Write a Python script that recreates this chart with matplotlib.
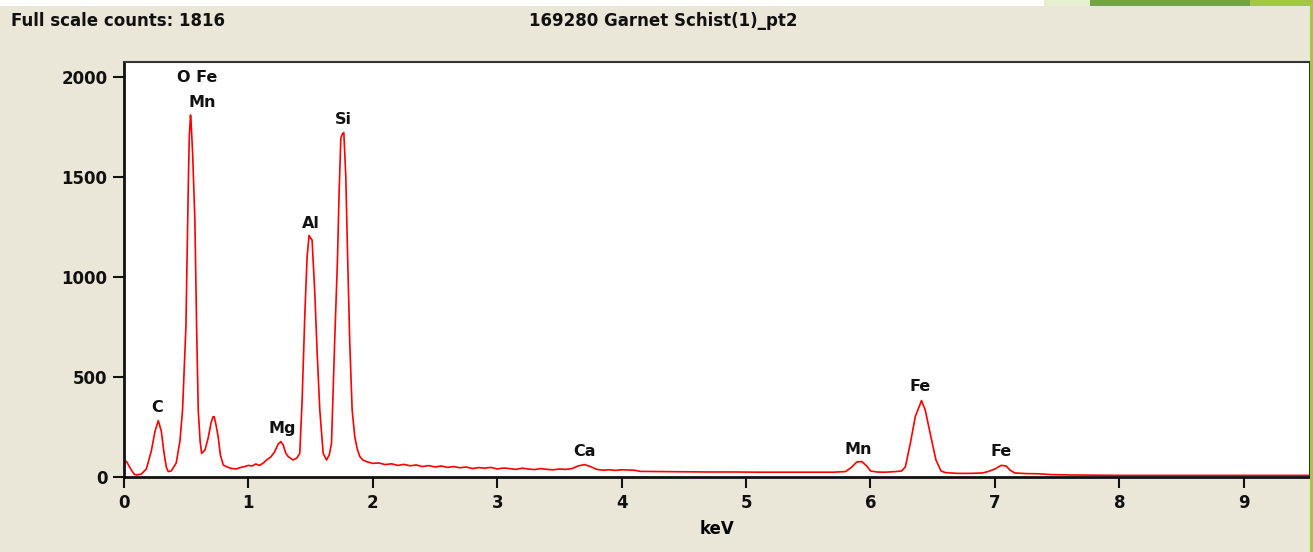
import matplotlib
matplotlib.use("Agg")
import matplotlib.pyplot as plt
from matplotlib.patches import Rectangle

# EDS spectrum (keV, counts)
energy_kev = [
    0.00, 0.02, 0.05, 0.08, 0.10, 0.14, 0.18, 0.22, 0.25, 0.276, 0.30, 0.32,
    0.34, 0.356, 0.38, 0.42, 0.45, 0.471, 0.498, 0.509, 0.517, 0.525, 0.530,
    0.535, 0.540, 0.552, 0.570, 0.584, 0.597, 0.612, 0.624, 0.651, 0.675,
    0.700, 0.715, 0.725, 0.740, 0.757, 0.775, 0.798, 0.83, 0.86, 0.90, 0.94,
    0.97, 1.00, 1.03, 1.06, 1.09, 1.12, 1.146, 1.18, 1.21, 1.24, 1.261, 1.28,
    1.30, 1.32, 1.36, 1.39, 1.413, 1.432, 1.454, 1.472, 1.488, 1.500, 1.512,
    1.534, 1.553, 1.574, 1.601, 1.628, 1.650, 1.668, 1.694, 1.716, 1.729,
    1.743, 1.755, 1.767, 1.783, 1.797, 1.815, 1.834, 1.855, 1.875, 1.896,
    1.92, 1.949, 2.00, 2.05, 2.10, 2.15, 2.20, 2.25, 2.30, 2.35, 2.40, 2.45,
    2.50, 2.55, 2.60, 2.65, 2.70, 2.75, 2.80, 2.85, 2.90, 2.95, 3.00, 3.05,
    3.10, 3.15, 3.20, 3.25, 3.30, 3.35, 3.40, 3.45, 3.50, 3.55, 3.60, 3.65,
    3.70, 3.75, 3.80, 3.85, 3.90, 3.95, 4.00, 4.05, 4.10, 4.15, 4.30, 4.50,
    4.70, 4.90, 5.10, 5.30, 5.50, 5.70, 5.80, 5.85, 5.89, 5.93, 5.97, 6.00,
    6.05, 6.10, 6.15, 6.20, 6.25, 6.28, 6.32, 6.36, 6.41, 6.44, 6.485, 6.526,
    6.567, 6.60, 6.70, 6.80, 6.90, 6.95, 7.00, 7.05, 7.09, 7.12, 7.16, 7.25,
    7.35, 7.45, 7.60, 7.80, 8.00, 8.50, 9.00, 9.53,
]
counts = [
    77, 78, 45, 15, 10, 15, 40, 130, 230, 282, 230, 130,
    50, 27, 30, 70, 180, 335, 752, 1152, 1452, 1700, 1760,
    1810, 1770, 1618, 1285, 752, 335, 180, 118, 135, 190,
    270, 300, 302, 260, 202, 110, 60, 50, 43, 40, 48,
    52, 58, 55, 65, 58, 70, 85, 100, 125, 165, 177, 160,
    120, 102, 85, 95, 118, 385, 818, 1102, 1208, 1195, 1185,
    918, 618, 335, 118, 85, 110, 168, 685, 1085, 1418,
    1693, 1715, 1722, 1502, 1118, 668, 335, 202, 140, 102,
    85, 77, 68, 70, 62, 66, 58, 63, 56, 60, 52, 57,
    50, 55, 48, 52, 46, 50, 42, 47, 44, 48, 40, 45,
    42, 38, 44, 40, 37, 42, 38, 36, 40, 38, 42, 55,
    62, 52, 38, 34, 36, 33, 36, 35, 34, 28, 27, 26,
    25, 25, 24, 24, 24, 24, 27, 50, 75, 77, 55, 30,
    25, 24, 25, 27, 30, 50, 168, 302, 382, 335, 202, 85,
    30, 22, 18, 18, 20, 28, 40, 58, 55, 35, 20, 17,
    16, 12, 10, 9, 8, 8, 8, 8,
]

# peak labels: text, keV, counts (label centre)
peak_labels = ["O Fe", "Mn", "C", "Mg", "Al", "Si", "Ca", "Mn", "Fe", "Fe"]
label_kev = [0.59, 0.63, 0.27, 1.27, 1.50, 1.76, 3.70, 5.90, 6.40, 7.05]
label_counts = [1995, 1870, 345, 240, 1265, 1785, 125, 135, 450, 125]

BG = "#ebe7d8"
FONT = "DejaVu Sans"

fig = plt.figure(figsize=(13.13, 5.52), dpi=100)
fig.patch.set_facecolor(BG)

# slide decoration along the top and right edge
fig.patches.append(Rectangle((0, 0.989), 1, 0.011, transform=fig.transFigure,
                             facecolor="white", edgecolor="none"))
fig.patches.append(Rectangle((0.795, 0.989), 0.035, 0.011, transform=fig.transFigure,
                             facecolor="#e6efcf", edgecolor="none"))
fig.patches.append(Rectangle((0.830, 0.989), 0.122, 0.011, transform=fig.transFigure,
                             facecolor="#72a446", edgecolor="none"))
fig.patches.append(Rectangle((0.952, 0.989), 0.048, 0.011, transform=fig.transFigure,
                             facecolor="#a3c940", edgecolor="none"))
fig.patches.append(Rectangle((0.9975, 0), 0.0025, 1, transform=fig.transFigure,
                             facecolor="#a3c940", edgecolor="none"))

ax = fig.add_axes([0.0944, 0.1359, 0.9031, 0.7518])
ax.set_facecolor("white")
ax.plot(energy_kev, counts, color="#ff0000", lw=1.2)

for txt, x, y in zip(peak_labels, label_kev, label_counts):
    ax.text(x, y, txt, ha="center", va="center", fontsize=11.5,
            fontweight="bold", family=FONT, color="#111111")

ax.set_xlim(0, 9.53)
ax.set_ylim(0, 2075)
ax.set_xticks(range(0, 10))
ax.set_yticks([0, 500, 1000, 1500, 2000])
ax.tick_params(direction="out", length=8, width=1.5, colors="#111111",
               labelsize=12)
for lab in ax.get_xticklabels() + ax.get_yticklabels():
    lab.set_fontweight("bold")
    lab.set_family(FONT)
ax.tick_params(axis="x", pad=4)
ax.tick_params(axis="y", pad=4)
for side in ["left", "bottom"]:
    ax.spines[side].set_linewidth(2)
    ax.spines[side].set_color("#111111")
for side in ["top", "right"]:
    ax.spines[side].set_linewidth(1.5)
    ax.spines[side].set_color("#333333")

ax.set_xlabel("keV", fontsize=12, fontweight="bold", family=FONT, labelpad=6)

fig.text(0.008, 0.962, "Full scale counts: 1816", fontsize=12, fontweight="bold",
         family=FONT, va="center", ha="left", color="#111111")
fig.text(0.505, 0.962, "169280 Garnet Schist(1)_pt2", fontsize=12,
         fontweight="bold", family=FONT, va="center", ha="center", color="#111111")

fig.savefig("out.png", dpi=100, facecolor=BG)
